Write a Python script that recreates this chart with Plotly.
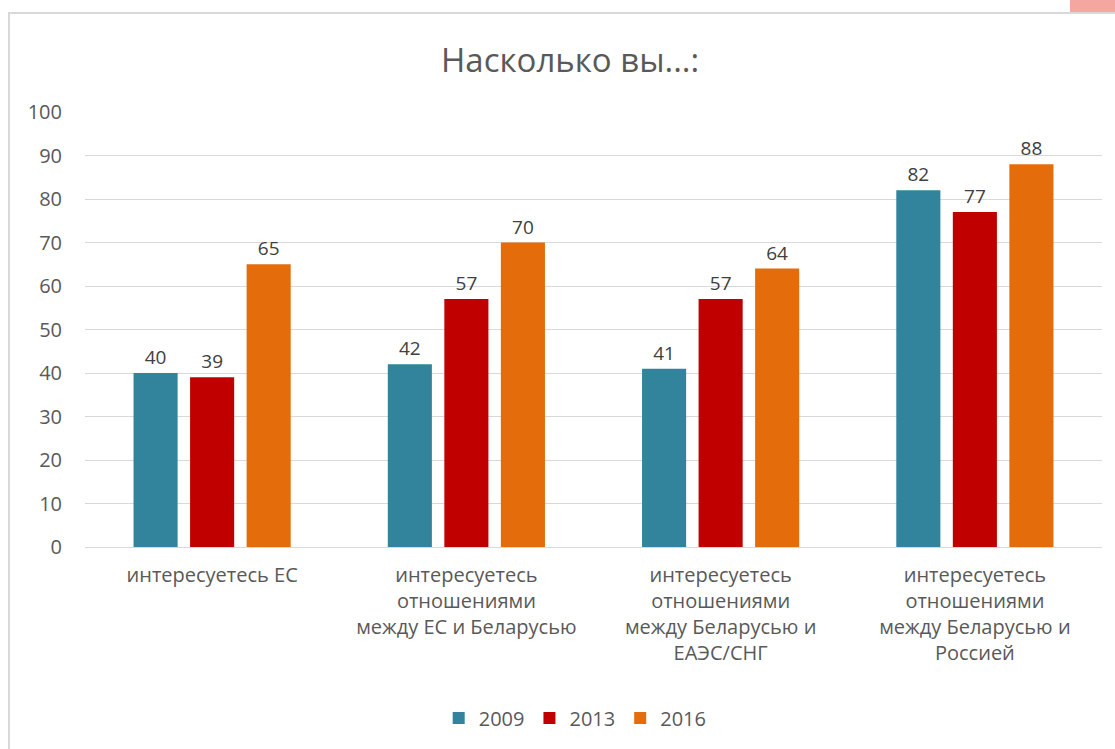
import plotly.graph_objects as go

categories = [
    "интересуетесь ЕС",
    "интересуетесь<br>отношениями<br>между ЕС и Беларусью",
    "интересуетесь<br>отношениями<br>между Беларусью и<br>ЕАЭС/СНГ",
    "интересуетесь<br>отношениями<br>между Беларусью и<br>Россией",
]
years = ["2009", "2013", "2016"]
values_2009 = [40, 42, 41, 82]
values_2013 = [39, 57, 57, 77]
values_2016 = [65, 70, 64, 88]
colors = ["#31849B", "#C00000", "#E46C0A"]
title_text = "Насколько вы...:"
y_ticks = [0, 10, 20, 30, 40, 50, 60, 70, 80, 90, 100]

FONT = "Open Sans, Carlito, Liberation Sans, sans-serif"

fig = go.Figure()
for name, vals, col in zip(years, [values_2009, values_2013, values_2016], colors):
    fig.add_trace(go.Bar(
        x=categories, y=vals, name=name,
        marker=dict(color=col, line=dict(width=0)),
        text=[str(v) for v in vals], textposition="outside",
        textfont=dict(family=FONT, size=19, color="#404040"),
        cliponaxis=False,
    ))

fig.update_layout(
    width=1115, height=749,
    margin=dict(l=85, r=1115 - 1102, t=112, b=749 - 547),
    paper_bgcolor="white", plot_bgcolor="white",
    barmode="group", bargap=0.333, bargroupgap=0.22,
    font=dict(family=FONT, color="#595959"),
    title=dict(text=title_text, x=0.477, xref="paper", xanchor="center",
               y=1 - 60 / 749, yref="container", yanchor="middle",
               font=dict(family=FONT, size=33, color="#595959")),
    showlegend=True,
    legend=dict(orientation="h", x=0.482, xanchor="center", y=-0.393, yanchor="middle",
                font=dict(family=FONT, size=20, color="#595959"),
                itemwidth=30, traceorder="normal"),
    xaxis=dict(showgrid=False, showline=False, ticks="",
               tickfont=dict(family=FONT, size=20, color="#595959")),
    yaxis=dict(range=[0, 100], tickvals=y_ticks, showgrid=True, gridcolor="#D9D9D9",
               gridwidth=1, zeroline=True, zerolinecolor="#D9D9D9", zerolinewidth=1,
               showline=False, ticks="", ticklen=0,
               tickfont=dict(family=FONT, size=20, color="#595959")),
    shapes=[
        dict(type="rect", xref="paper", yref="paper", x0=(9 - 85) / 1017, x1=1.1,
             y0=-0.6, y1=(547 - 13) / 435, line=dict(color="#D9D9D9", width=2),
             fillcolor="rgba(0,0,0,0)", layer="below"),
        dict(type="rect", xref="paper", yref="paper", x0=(1070 - 85) / 1017, x1=1.1,
             y0=(547 - 12) / 435, y1=1.4, line=dict(width=0),
             fillcolor="#F4A6A0", layer="above"),
    ],
)
fig.update_yaxes(ticklabelstandoff=22)
fig.update_xaxes(ticklabelstandoff=14)

fig.write_html("out.html", config={"displayModeBar": False},
               post_script="document.body.style.margin='0';document.body.style.padding='0';")
